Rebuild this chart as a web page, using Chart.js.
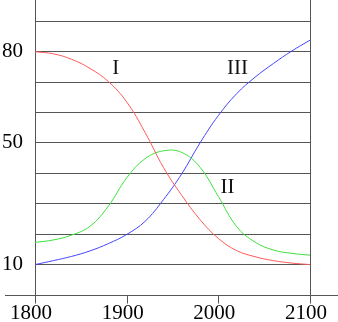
<!DOCTYPE html>
<html>
<head>
<meta charset="utf-8">
<script src="https://cdn.jsdelivr.net/npm/chart.js@4"></script>
<style>
  html, body { margin: 0; padding: 0; background: #fff; }
  #wrap { width: 338px; height: 322px; }
</style>
</head>
<body>
<div id="wrap"><canvas id="chart"></canvas></div>
<script>
const years = [1800, 1820, 1840, 1860, 1880, 1900, 1920, 1940, 1960, 1980, 2000, 2020, 2040, 2060, 2080, 2100];
const seriesI   = [80, 79.3, 77.5, 74.5, 70.2, 63.5, 53.5, 42, 32.8, 24.8, 18.6, 14.6, 12.6, 11.3, 10.5, 10];
const seriesII  = [17.3, 18.1, 19.7, 22.6, 29.2, 38.5, 44.8, 47.4, 46.9, 42, 32.4, 22.5, 17.4, 14.8, 13.7, 13.1];
const seriesIII = [10, 11.3, 12.7, 14.5, 16.9, 19.9, 24.2, 31.3, 39.8, 50, 59, 66.2, 71.6, 76.1, 80.2, 83.8];
const yLabels = [10, 50, 80];
const yGrid = [10, 20, 30, 40, 50, 60, 70, 80, 90];
const xTicks = [1800, 1900, 2000, 2100];
const curveNames = [
  { text: 'I',   x: 1888, y: 74.4 },
  { text: 'II',  x: 2010, y: 35.3 },
  { text: 'III', x: 2021, y: 74.4 }
];

const serif = '"Liberation Serif", "Times New Roman", serif';

const pts = vals => vals.map((v, i) => ({ x: years[i], y: v }));

// axis line, year ticks and curve names
const frame = {
  id: 'frame',
  beforeDatasetsDraw(chart) {
    const { ctx, scales: { x, y } } = chart;
    const y0 = Math.round(y.getPixelForValue(0)) + 0.5;
    ctx.save();
    ctx.strokeStyle = '#555';
    ctx.lineWidth = 1;
    ctx.beginPath();
    ctx.moveTo(5, y0);
    ctx.lineTo(chart.width, y0);
    xTicks.forEach(t => {
      const px = Math.round(x.getPixelForValue(t)) + 0.5;
      const top = (t === 1800 || t === 2100) ? chart.chartArea.top : y0;
      ctx.moveTo(px, top);
      ctx.lineTo(px, y0 + 8);
    });
    ctx.stroke();
    ctx.restore();
  },
  afterDatasetsDraw(chart) {
    const { ctx, scales: { x, y } } = chart;
    ctx.save();
    ctx.fillStyle = '#111';
    ctx.font = '21px ' + serif;
    ctx.textAlign = 'center';
    ctx.textBaseline = 'middle';
    curveNames.forEach(n => {
      ctx.fillText(n.text, x.getPixelForValue(n.x), y.getPixelForValue(n.y));
    });
    ctx.restore();
  }
};

const line = (data, color) => ({
  data: pts(data),
  borderColor: color,
  borderWidth: 1,
  pointRadius: 0,
  tension: 0.4,
  fill: false
});

new Chart(document.getElementById('chart'), {
  type: 'line',
  data: {
    datasets: [
      line(seriesI, 'rgb(255, 90, 90)'),
      line(seriesII, 'rgb(60, 225, 60)'),
      line(seriesIII, 'rgb(70, 70, 255)')
    ]
  },
  options: {
    responsive: true,
    maintainAspectRatio: false,
    animation: false,
    layout: { padding: { left: 0, right: 28, top: 0, bottom: 0 } },
    plugins: { legend: { display: false }, tooltip: { enabled: false } },
    scales: {
      x: {
        type: 'linear',
        min: 1800,
        max: 2100,
        afterBuildTicks: s => { s.ticks = xTicks.map(v => ({ value: v })); },
        afterFit: s => { s.height = 27; s.paddingLeft = 0; s.paddingRight = 0; },
        grid: { display: false },
        border: { display: false },
        ticks: {
          color: '#000',
          font: { family: serif, size: 21 },
          padding: -2,
          labelOffset: -4,
          maxRotation: 0,
          callback: v => String(v)
        }
      },
      y: {
        min: 0,
        max: 97,
        afterBuildTicks: s => { s.ticks = yGrid.map(v => ({ value: v })); },
        afterFit: s => { s.width = 35; s.paddingTop = 0; s.paddingBottom = 0; },
        grid: { color: '#555', lineWidth: 1, drawTicks: false },
        border: { display: false },
        ticks: {
          color: '#000',
          font: { family: serif, size: 21 },
          padding: 12,
          callback: v => yLabels.includes(v) ? String(v) : ''
        }
      }
    }
  },
  plugins: [frame]
});
</script>
</body>
</html>
